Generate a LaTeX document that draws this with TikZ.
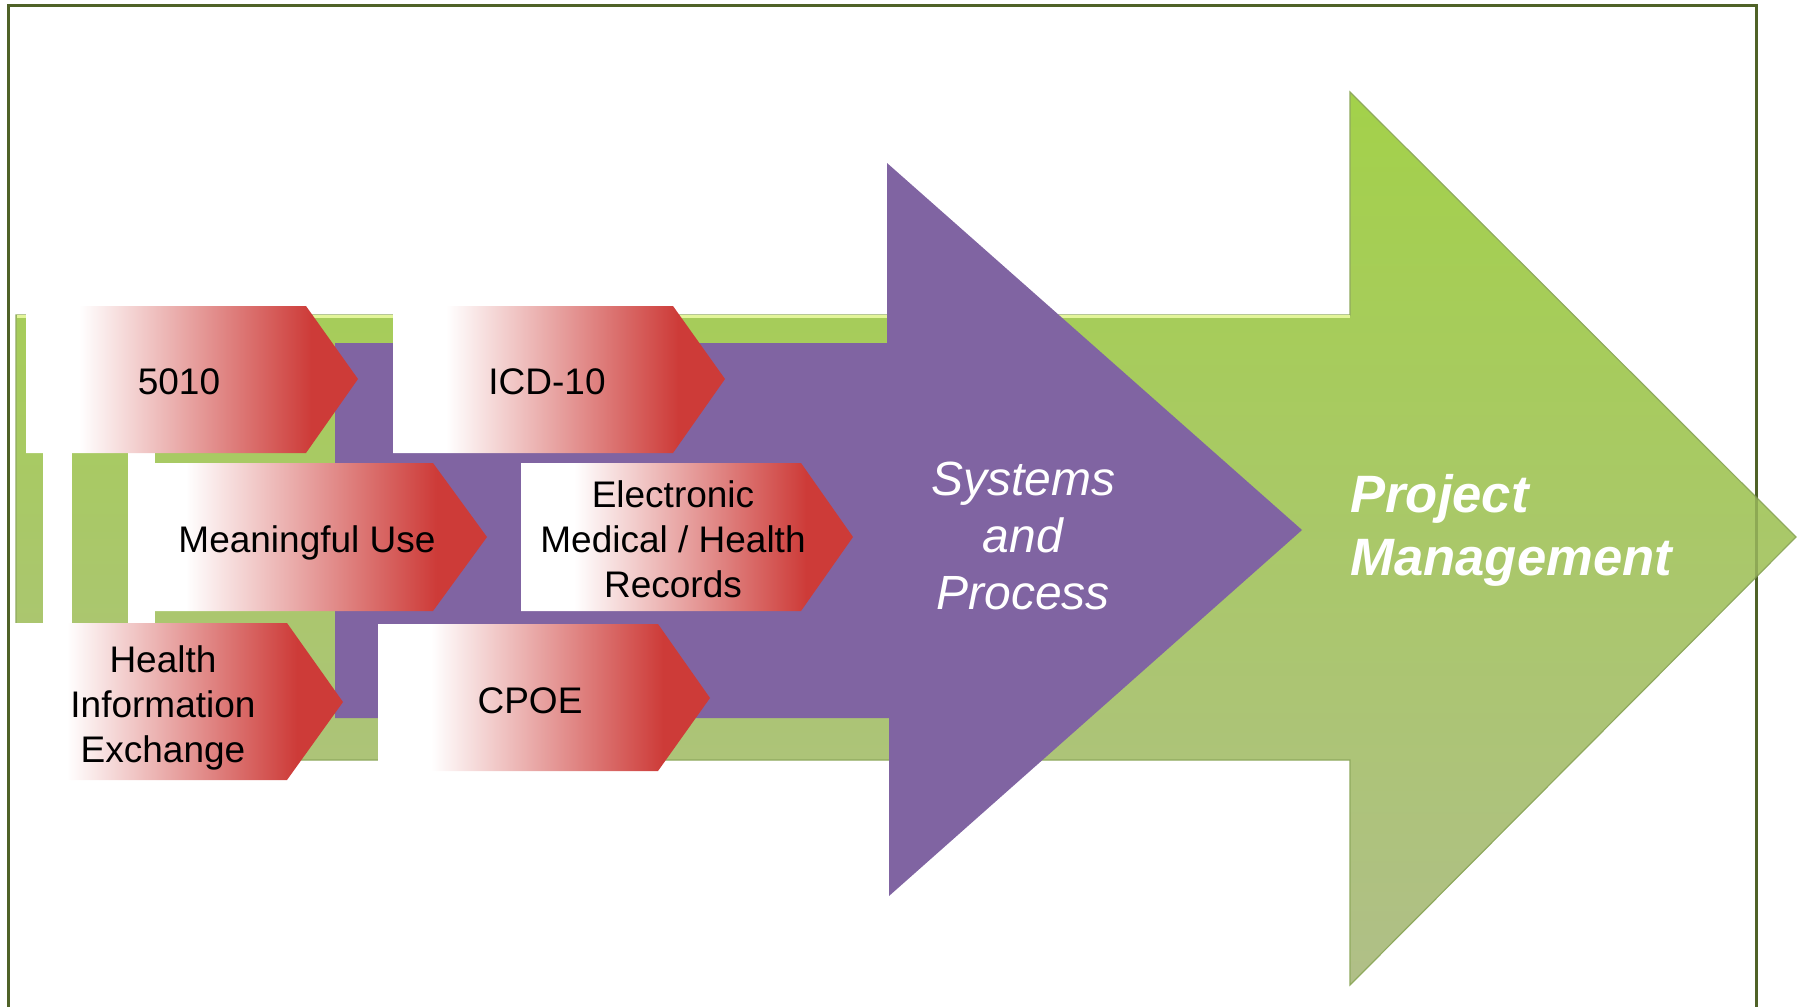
\documentclass[tikz,border=0pt]{standalone}
\usepackage{fontspec}
\setmainfont{Liberation Sans}
\usepackage{tikz}

\definecolor{framegreen}{HTML}{4F6228}
\definecolor{pmtop}{HTML}{A3D14A}
\definecolor{pmbottom}{HTML}{B0BF88}
\definecolor{pmedge}{HTML}{8FA95E}
\definecolor{pmlight}{HTML}{E3F59A}
\definecolor{sppurple}{HTML}{8064A2}
\definecolor{chevred}{HTML}{CD3B38}
\pgfdeclarehorizontalshading{chevfill}{100bp}{color(0bp)=(white); color(33bp)=(white); color(68bp)=(chevred); color(100bp)=(chevred)}

\begin{document}
\begin{tikzpicture}[x=0.5pt,y=-0.5pt,
  frameline/.style={framegreen,line width=1.5pt},
  chevron/.style={shading=chevfill},
  chevtext/.style={inner sep=0pt,align=center,font=\fontsize{18.5}{22.5}\selectfont},
  systext/.style={inner sep=0pt,align=center,text=white,font=\fontsize{24}{28.5}\selectfont\itshape},
  pmtext/.style={inner sep=0pt,align=left,text=white,font=\fontsize{26.3}{31.5}\selectfont\bfseries\itshape}]
\useasboundingbox (0,0) rectangle (1802,1006);

\draw[frameline] (8,1010) -- (8,6) -- (1756,6) -- (1756,1010);

\shade[top color=pmtop,bottom color=pmbottom,draw=pmedge,line width=0.6pt]
  (16,315) -- (1350,315) -- (1350,92) -- (1796,537) -- (1350,985) -- (1350,760) -- (16,760) -- cycle;
\draw[pmlight,line width=1.2pt] (17,316.5) -- (1350,316.5);
\draw[frameline,opacity=.3] (1756,130) -- (1756,940);

\fill[sppurple] (335,343) -- (887,343) -- (887,163) -- (1302,530) -- (889,896) -- (889,718) -- (335,718) -- cycle;

\fill[white] (43,453) rectangle (72,623);
\fill[white] (128,453) rectangle (155,623);

\shade[chevron] (26,306) -- (306,306) -- (358,379) -- (306,453) -- (26,453) -- cycle;
\shade[chevron] (393,306) -- (673,306) -- (725,379) -- (673,453) -- (393,453) -- cycle;
\shade[chevron] (128,463) -- (433,463) -- (487,537) -- (433,611) -- (128,611) -- cycle;
\shade[chevron] (521,463) -- (801,463) -- (853,537) -- (801,611) -- (521,611) -- cycle;
\shade[chevron] (14,623) -- (287,623) -- (343,702) -- (287,780) -- (14,780) -- cycle;
\shade[chevron] (378,624) -- (658,624) -- (710,698) -- (658,771) -- (378,771) -- cycle;

\node[chevtext,anchor=base] (t5010) at (179,394) {5010};
\node[chevtext,anchor=base] (icd) at (547,394) {ICD-10};
\node[chevtext,anchor=base] (mu) at (307,552) {Meaningful Use};
\node[chevtext,anchor=base] (emr) at (673,597) {Electronic\\Medical / Health\\Records};
\node[chevtext,anchor=base] (hie) at (163,762) {Health\\Information\\Exchange};
\node[chevtext,anchor=base] (cpoe) at (530,713) {CPOE};

\node[systext,anchor=base] (sys) at (1023,609) {Systems\\and\\Process};
\node[pmtext,anchor=base west] (pm) at (1350,575) {Project\\Management};
\end{tikzpicture}
\end{document}
